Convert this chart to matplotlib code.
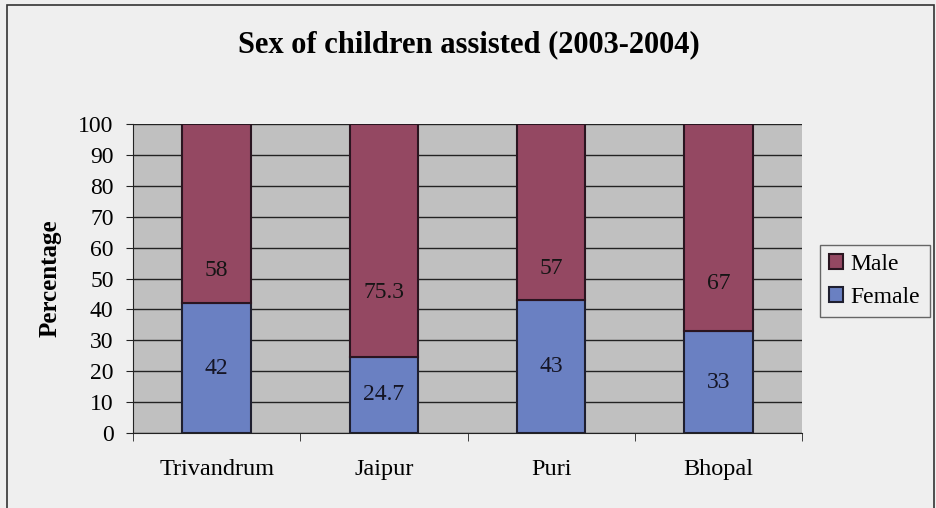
import numpy as np
import matplotlib.pyplot as plt
from matplotlib.patches import Rectangle

sites = ["Trivandrum", "Jaipur", "Puri", "Bhopal"]
female = [42, 24.7, 43, 33]
male = [58, 75.3, 57, 67]
# where the male value labels sit on the y axis
male_label_y = [52.7, 45.6, 53.4, 48.5]
yticks = list(range(0, 101, 10))

plt.rcParams['font.family'] = ['Liberation Serif', 'DejaVu Serif']

fig = plt.figure(figsize=(9.37, 5.08), dpi=100)
fig.patch.set_facecolor('#efefef')
fig.patches.append(Rectangle((0.007, -0.01), 0.99, 1.0, transform=fig.transFigure,
                             fill=False, edgecolor='#333333', linewidth=1.2))

ax = fig.add_axes([0.142, 0.1476, 0.714, 0.6083])
ax.set_facecolor('#c0c0c0')

x = np.arange(len(sites))
w = 0.41
ax.bar(x, female, w, color='#6a80c2', edgecolor='#1f1f2f', linewidth=1.5,
       label='Female', zorder=3)
ax.bar(x, male, w, bottom=female, color='#944862', edgecolor='#2a1520',
       linewidth=1.5, label='Male', zorder=3)

for i in range(len(sites)):
    ax.text(x[i], female[i] / 2, f"{female[i]:g}", ha='center', va='center',
            fontsize=17, color='#151525', zorder=4)
    ax.text(x[i], male_label_y[i], f"{male[i]:g}", ha='center', va='center',
            fontsize=17, color='#151515', zorder=4)

ax.set_xlim(-0.5, len(sites) - 0.5)
ax.set_ylim(0, 100)
ax.set_yticks(yticks)
ax.yaxis.grid(True, color='#222222', linewidth=1.0, zorder=1)
ax.set_axisbelow(True)

ax.set_xticks(x)
ax.set_xticklabels(sites, fontsize=17.5)
ax.set_xticks(np.arange(-0.5, len(sites)), minor=True)
ax.tick_params(axis='x', which='major', length=0, pad=19)
ax.tick_params(axis='x', which='minor', length=6, direction='out', color='#222222')
ax.tick_params(axis='y', labelsize=17, length=5, direction='out', pad=9, color='#222222')

for side in ['top', 'right']:
    ax.spines[side].set_visible(False)
for side in ['left', 'bottom']:
    ax.spines[side].set_color('#222222')

ax.set_ylabel('Percentage', fontsize=18, fontweight='bold', labelpad=12)
fig.text(0.5, 0.911, 'Sex of children assisted (2003-2004)', ha='center',
         va='center', fontsize=22, fontweight='bold')

handles, labels = ax.get_legend_handles_labels()
leg = fig.legend(handles[::-1], labels[::-1], loc='center left',
                 bbox_to_anchor=(0.875, 0.447), fontsize=17, frameon=True,
                 fancybox=False, edgecolor='#444444', handlelength=0.6,
                 handleheight=0.6, handletextpad=0.3, borderpad=0.4,
                 labelspacing=0.5, borderaxespad=0)
leg.get_frame().set_facecolor('#efefef')
leg.get_frame().set_linewidth(1.0)

fig.savefig('out.png', dpi=100, facecolor=fig.get_facecolor())
